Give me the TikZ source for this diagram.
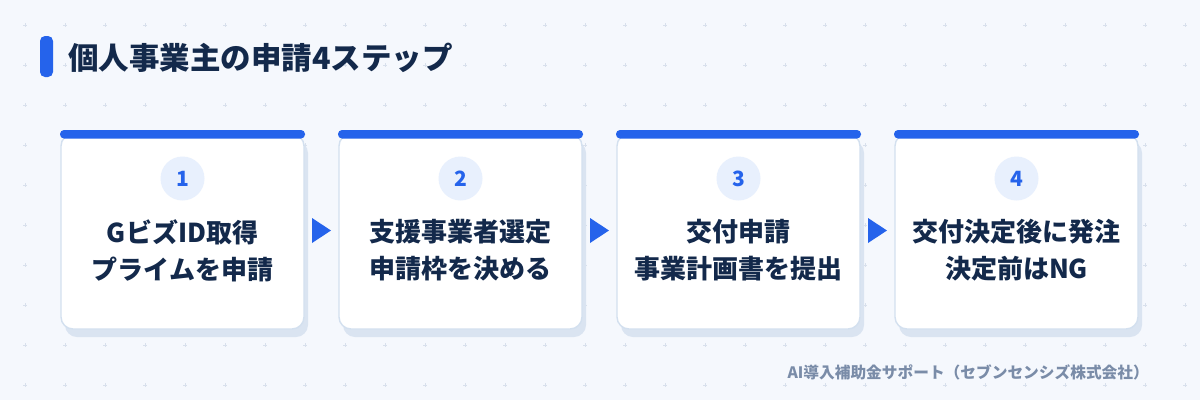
\documentclass[tikz,border=0pt]{standalone}
\usepackage{fontspec}
\setmainfont{Noto Sans CJK JP}
\usetikzlibrary{calc}
\definecolor{bgc}{HTML}{F5F8FD}
\definecolor{dotc}{HTML}{D8E0EC}
\definecolor{navy}{HTML}{13294B}
\definecolor{blue}{HTML}{2563EB}
\definecolor{circ}{HTML}{E8F0FD}
\definecolor{bord}{HTML}{D3E0EF}
\definecolor{shad}{HTML}{DAE4F1}
\definecolor{foot}{HTML}{7A8CA8}
\tikzset{
  cardbody/.style={rounded corners=12pt, fill=white, draw=bord, line width=1.4pt},
  cardshadow/.style={rounded corners=12pt, fill=shad},
  topbar/.style={rounded corners=4pt, fill=blue},
  numcirc/.style={circle, fill=circ, minimum size=44pt, inner sep=0pt, text=blue, font=\fontsize{21}{21}\selectfont\bfseries},
  cardtext/.style={align=center, text=navy, font=\fontsize{26}{37}\selectfont\bfseries, inner sep=0pt},
  arrowtri/.style={fill=blue},
}
\begin{document}
\begin{tikzpicture}[x=1pt,y=-1pt]
\useasboundingbox (0,0) rectangle (1200,400);
\fill[bgc] (0,0) rectangle (1200,400);
% dot grid
\foreach \i in {0,...,29} {
  \foreach \j in {0,...,9} {
    \fill[dotc] ({25+40*\i-1.6},{25+40*\j-0.5}) rectangle ({25+40*\i+1.6},{25+40*\j+0.5});
    \fill[dotc] ({25+40*\i-0.5},{25+40*\j-1.6}) rectangle ({25+40*\i+0.5},{25+40*\j+1.6});
  }
}
% title
\fill[blue, rounded corners=5pt] (40,36) rectangle (53,77);
\node[anchor=west, text=navy, inner sep=0pt, font=\fontsize{30.5}{30.5}\selectfont\bfseries] (title) at (68,57.5) {個人事業主の申請4ステップ};
% cards
\foreach \n/\x in {1/61, 2/339, 3/617, 4/895} {
  \fill[cardshadow] (\x+4,141) rectangle (\x+247,337);
  \draw[cardbody] (\x,134) rectangle (\x+243,329);
  \fill[topbar] (\x-1,130) rectangle (\x+244,138.5);
  \node[numcirc] (num\n) at (\x+121.5,178.5) {\n};
}
\node[cardtext] (t1) at (182.5,250.5) {GビズID取得\\プライムを申請};
\node[cardtext] (t2) at (460.5,250.5) {支援事業者選定\\申請枠を決める};
\node[cardtext] (t3) at (738.5,250.5) {交付申請\\事業計画書を提出};
\node[cardtext] (t4) at (1016.5,250.5) {交付決定後に発注\\決定前はNG};
% arrows
\foreach \x in {312,590,868} {
  \fill[arrowtri] (\x,218) -- (\x,243) -- (\x+19,230.5) -- cycle;
}
% footer
\node[anchor=east, text=foot, inner sep=0pt, font=\fontsize{15.7}{15.7}\selectfont\bfseries] (footer) at (1149,372) {AI導入補助金サポート（セブンセンシズ株式会社）};
\end{tikzpicture}
\end{document}
